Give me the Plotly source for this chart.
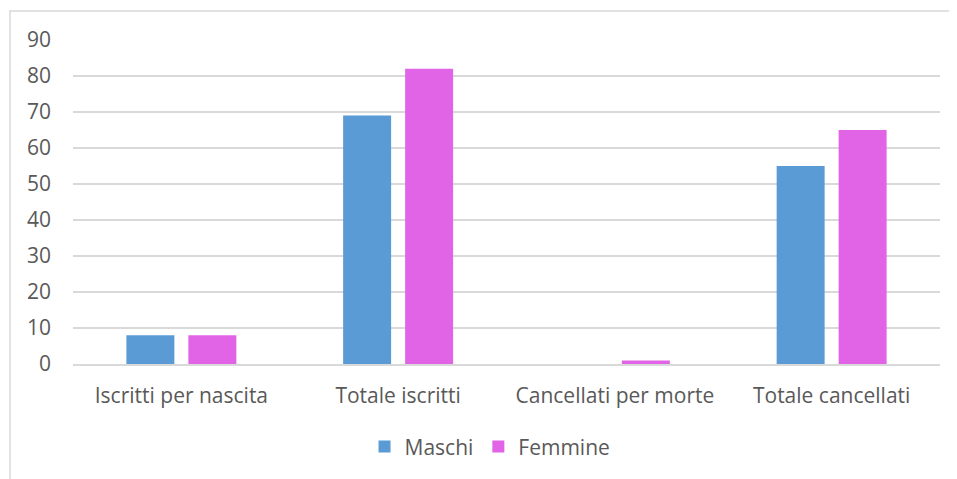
import plotly.graph_objects as go

categories = ["Iscritti per nascita", "Totale iscritti", "Cancellati per morte", "Totale cancellati"]
maschi = [8, 69, 0, 55]
femmine = [8, 82, 1, 65]
y_ticks = [0, 10, 20, 30, 40, 50, 60, 70, 80, 90]

FONT = "Open Sans"
TXT = "#595959"

fig = go.Figure()
fig.add_trace(go.Bar(name="Maschi", x=categories, y=maschi, marker_color="#5B9BD5", marker_line_width=0))
fig.add_trace(go.Bar(name="Femmine", x=categories, y=femmine, marker_color="#E264E6", marker_line_width=0))

fig.update_layout(
    width=949, height=471,
    margin=dict(l=65, r=17, t=32, b=115),
    paper_bgcolor="white", plot_bgcolor="white",
    barmode="group", bargap=0.428, bargroupgap=0.226,
    font=dict(family=FONT, size=21, color=TXT),
    showlegend=True,
    legend=dict(orientation="h", x=0.481, xanchor="center", y=-0.256, yanchor="middle",
                font=dict(family=FONT, size=21, color=TXT), itemwidth=30, traceorder="normal"),
    shapes=[dict(type="rect", xref="paper", yref="paper", x0=-0.0727, x1=1.05, y0=-0.45, y1=1.0895,
                 line=dict(color="#D9D9D9", width=1.5), fillcolor="rgba(0,0,0,0)", layer="below")],
)
fig.update_xaxes(showgrid=False, showline=True, linecolor="#D9D9D9", linewidth=1.5,
                 ticks="", ticklabelstandoff=12, tickfont=dict(family=FONT, size=21, color=TXT))
fig.update_yaxes(range=[0, 90], tickvals=y_ticks, showgrid=True, gridcolor="#D9D9D9", gridwidth=1.5,
                 zeroline=False, showline=False, ticks="", ticklabelstandoff=21,
                 tickfont=dict(family=FONT, size=21, color=TXT))

fig.write_html("out.html")
